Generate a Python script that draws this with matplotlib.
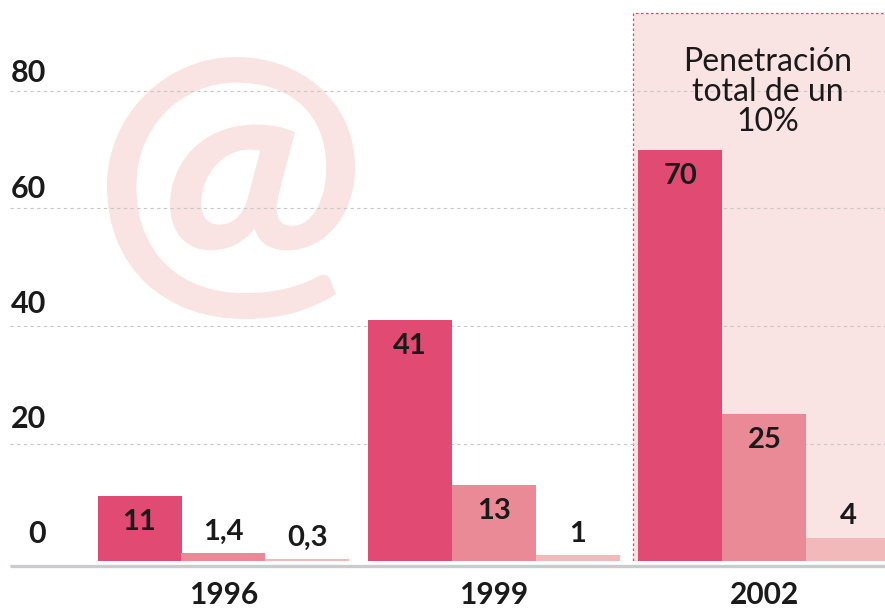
import matplotlib
matplotlib.use("Agg")
import matplotlib.pyplot as plt
from matplotlib.patches import Rectangle, PathPatch
from matplotlib.textpath import TextPath
from matplotlib.font_manager import FontProperties
from matplotlib.transforms import Affine2D

# ---- data ----
years = ["1996", "1999", "2002"]
serie_1 = [11, 41, 70]
serie_2 = [1.4, 13, 25]
serie_3 = [0.3, 1, 4]
y_ticks = [0, 20, 40, 60, 80]
note_text = "Penetración\ntotal de un\n10%"

colors = ["#e14a72", "#ea8a96", "#f2b9ba"]
fill_col = "#f9e3e3"
text_col = "#1a1a1a"
FONT = "Lato"

W, H = 885, 609
fig = plt.figure(figsize=(W / 100, H / 100), dpi=100)
fig.patch.set_facecolor("white")

# pixel layout helpers
px_unit_y = 5.875        # pixels per value unit
group_px = 270.5         # pixels per group
g0_px = 223.5            # pixel x of first group centre
base_px = 561            # pixel y of zero line
left_px = 10

ax = fig.add_axes([left_px / W, (H - base_px) / H, 1 - left_px / W, base_px / H])
ax.set_facecolor("none")
ax.set_xlim((left_px - g0_px) / group_px, (W - g0_px) / group_px)
ax.set_ylim(0, base_px / px_unit_y)
for s in ax.spines.values():
    s.set_visible(False)
ax.set_xticks([])
ax.set_yticks([])

# watermark "@"
tp = TextPath((0, 0), "@", size=100, prop=FontProperties(family=FONT, weight="bold"))
ext = tp.get_extents()
bx0, bx1, by0, by1 = 107, 355, 57, 319  # pixel box (top-left origin)
tr = (Affine2D().translate(-ext.x0, -ext.y0)
      .scale((bx1 - bx0) / ext.width / W, (by1 - by0) / ext.height / H)
      .translate(bx0 / W, (H - by1) / H))
at_patch = PathPatch(tr.transform_path(tp), facecolor=fill_col, edgecolor="none",
                     transform=fig.transFigure, zorder=-5)
fig.add_artist(at_patch)

# highlight box for 2002
box_x0 = (633 - g0_px) / group_px
box_top = (base_px - 13) / px_unit_y
ax.add_patch(Rectangle((box_x0, 0), 2.0, box_top, facecolor=fill_col,
                       edgecolor="#e8416e", linewidth=0.9, linestyle=(0, (2, 2)),
                       zorder=0))

# gridlines
for t in y_ticks[1:]:
    ax.axhline(t, color="#c8c8c8", linewidth=0.8, linestyle=(0, (3, 3)), zorder=1)

# bars
bw = 84 / group_px
x = list(range(len(years)))
series = [serie_1, serie_2, serie_3]
for i, (vals, c) in enumerate(zip(series, colors)):
    xs = [xi + (i - 1) * bw for xi in x]
    ax.bar(xs, vals, width=bw, color=c, zorder=2)
    for xv, v in zip(xs, vals):
        lab = (f"{v:g}").replace(".", ",")
        if v >= 10:
            ax.annotate(lab, (xv, v), xytext=(0, -18.7), textcoords="offset points",
                        ha="center", va="center", fontsize=21, fontweight="bold",
                        color=text_col, family=FONT, zorder=4)
        else:
            ax.annotate(lab, (xv, v), xytext=(0, 9.5), textcoords="offset points",
                        ha="center", va="baseline", fontsize=21, fontweight="bold",
                        color=text_col, family=FONT, zorder=4)

# y tick labels (drawn slightly above gridlines)
for t in y_ticks:
    ax.text((46 - g0_px) / group_px, t * 0.98 + 27 / px_unit_y, str(t),
            ha="right", va="center", fontsize=22, fontweight="bold",
            color=text_col, family=FONT, zorder=4)

# x labels
for xi, yr in zip(x, years):
    fig.text((g0_px + xi * group_px) / W, (H - 595) / H, yr, ha="center", va="center",
             fontsize=21.5, fontweight="bold", color=text_col, family=FONT)

# baseline axis
ax.plot([0, 1], [-4.5 / px_unit_y] * 2, transform=ax.get_yaxis_transform(which="grid"),
        color="#c8cccc", linewidth=2.4, solid_capstyle="butt", clip_on=False, zorder=3)

# note
ax.text((768 - g0_px) / group_px, (base_px - 92) / px_unit_y, note_text,
        ha="center", va="center", multialignment="center", linespacing=1.0,
        fontsize=23, color=text_col, family=FONT, zorder=4)

fig.savefig("out.png", dpi=100, facecolor="white")
